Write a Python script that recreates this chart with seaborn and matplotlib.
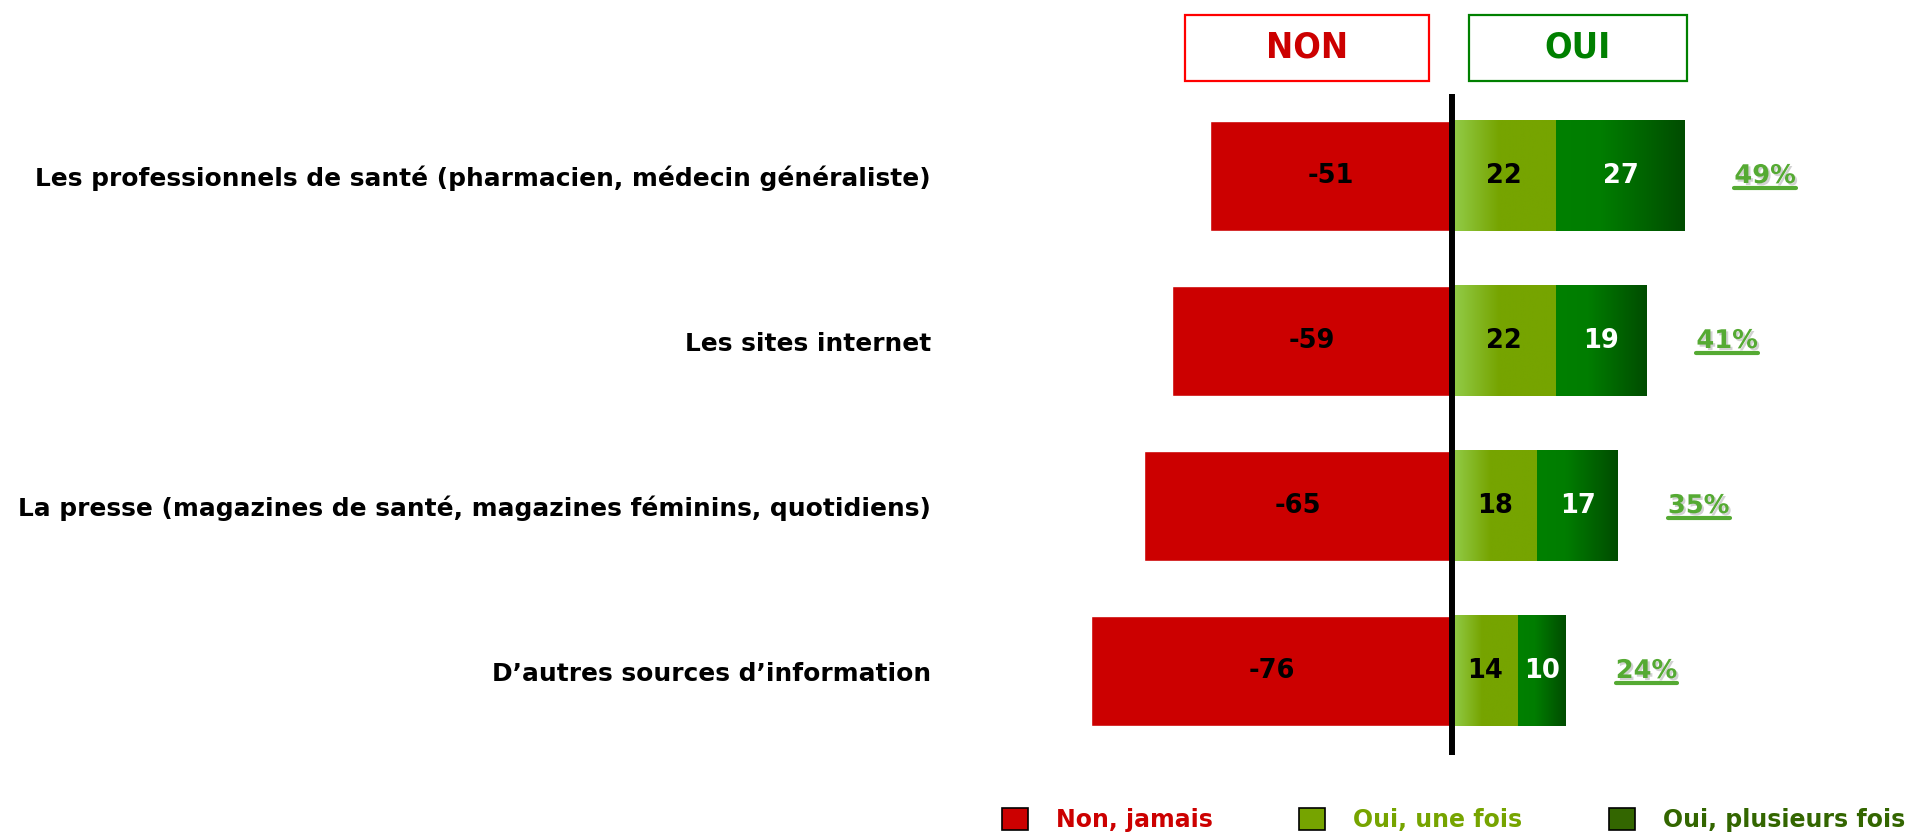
import numpy as np
import pandas as pd
import matplotlib
matplotlib.use("Agg")
import matplotlib.pyplot as plt
import matplotlib.patheffects as pe
import seaborn as sns
from matplotlib.patches import Patch, Rectangle
from matplotlib.colors import LinearSegmentedColormap
from matplotlib.lines import Line2D

# données
sources = [
    "Les professionnels de santé (pharmacien, médecin généraliste)",
    "Les sites internet",
    "La presse (magazines de santé, magazines féminins, quotidiens)",
    "D\u2019autres sources d\u2019information",
]
non_jamais = [51, 59, 65, 76]
oui_une_fois = [22, 22, 18, 14]
oui_plusieurs = [27, 19, 17, 10]
oui_total = [49, 41, 35, 24]
legend_labels = ["Non, jamais", "Oui, une fois", "Oui, plusieurs fois"]

df = pd.DataFrame({
    "source": sources,
    "non": [-v for v in non_jamais],
    "une": oui_une_fois,
    "plus": oui_plusieurs,
})
df["oui"] = df["une"] + df["plus"]

RED = "#CC0000"
OLIVE = "#76A400"
GREEN = "#008000"
DARK = "#336600"
PCT = "#55AA33"

sns.set_style("white")
plt.rcParams["font.family"] = ["DejaVu Sans"]
plt.rcParams["text.color"] = "black"
plt.rcParams["ytick.color"] = "black"

W, H = 1920, 838
fig = plt.figure(figsize=(W / 100, H / 100), dpi=100)
ax_l, ax_r, ax_t, ax_b = 960, 1920, 94, 755
ax = fig.add_axes([ax_l / W, 1 - ax_b / H, (ax_r - ax_l) / W, (ax_b - ax_t) / H])

bw = 0.667
sns.barplot(data=df, y="source", x="non", color=RED, saturation=1, width=bw,
            orient="h", errorbar=None, ax=ax)
sns.barplot(data=df, y="source", x="oui", color=GREEN, saturation=1, width=bw,
            orient="h", errorbar=None, ax=ax)
sns.barplot(data=df, y="source", x="une", color=OLIVE, saturation=1, width=bw,
            orient="h", errorbar=None, ax=ax)

red_bars, dark_bars, light_bars = ax.containers[0], ax.containers[1], ax.containers[2]

# dégradés sur les barres vertes
cm_light = LinearSegmentedColormap.from_list("l", [(0, "#93CD4B"), (0.45, OLIVE), (1, OLIVE)])
cm_dark = LinearSegmentedColormap.from_list("d", [(0, GREEN), (0.35, "#007D00"), (1, "#004C00")])
grad = np.linspace(0, 1, 256).reshape(1, -1)
lab_kw = dict(ha="center", va="center", fontsize=18.5, fontweight="bold", zorder=4)
for lp, dp in zip(light_bars, dark_bars):
    x0, y0 = lp.get_x(), lp.get_y()
    x1, h = x0 + lp.get_width(), lp.get_height()
    x2 = dp.get_x() + dp.get_width()
    lp.set_visible(False)
    dp.set_visible(False)
    ax.imshow(grad, extent=[x0, x1, y0 + h, y0], cmap=cm_light, aspect="auto", zorder=2)
    ax.imshow(grad, extent=[x1, x2, y0 + h, y0], cmap=cm_dark, aspect="auto", zorder=2)

    ax.text((x0 + x1) / 2, y0 + h / 2, f"{int(round(x1 - x0))}", color="black", **lab_kw)
    ax.text((x1 + x2) / 2, y0 + h / 2, f"{int(round(x2 - x1))}", color="white", **lab_kw)

for rp in red_bars:
    ax.text(rp.get_x() + rp.get_width() / 2, rp.get_y() + rp.get_height() / 2,
            f"{int(round(rp.get_width()))}", color="black", **lab_kw)

pct_texts = []
for i, tot in enumerate(oui_total):
    t = ax.text(tot + 17, i, f"{tot}%", ha="center", va="center", fontsize=18.5,
                fontweight="bold", color=PCT, zorder=4,
                path_effects=[pe.withSimplePatchShadow(offset=(1.5, -1.5),
                                                       shadow_rgbFace="#999999", alpha=0.45)])
    pct_texts.append(t)

ax.axvline(0, color="black", lw=4.3, zorder=5)

ax.set_xlim(-(1452 - ax_l) / 4.745, (ax_r - 1452) / 4.745)
ax.set_ylim(3 + (ax_b - 671) / 165, -(176 - ax_t) / 165)
ax.set_xlabel("")
ax.set_ylabel("")
ax.set_xticks([])
ax.set_yticks(range(len(sources)))
ax.set_yticklabels(sources, fontsize=17.9, fontweight="bold", color="black")
ax.tick_params(axis="y", length=0, pad=21)
sns.despine(ax=ax, left=True, bottom=True)

# encadrés NON / OUI
for (x0, x1, txt, ec, tc) in [(1185, 1429, "NON", "#FF0000", RED), (1469, 1687, "OUI", GREEN, GREEN)]:
    fig.add_artist(Rectangle((x0 / W, 1 - 81 / H), (x1 - x0) / W, 66 / H, transform=fig.transFigure,
                             fill=False, edgecolor=ec, lw=1.6))
    fig.text((x0 + x1) / 2 / W, 1 - 48 / H, txt, ha="center", va="center", color=tc,
             fontsize=26, fontweight="bold", fontstretch="condensed")

# légende
handles = [Patch(facecolor=c, edgecolor="black", lw=1.2) for c in (RED, OLIVE, DARK)]
fig.legend(handles, legend_labels, ncol=3, loc="center left", bbox_to_anchor=(990 / W, 1 - 820 / H),
           frameon=False, prop={"weight": "bold", "size": 17},
           labelcolor=[RED, OLIVE, DARK], handlelength=1.1, handleheight=1.1,
           handletextpad=1.2, columnspacing=3.65, borderpad=0)

# soulignement des pourcentages
fig.canvas.draw()
r = fig.canvas.get_renderer()
inv = fig.transFigure.inverted()
for t in pct_texts:
    bb = t.get_window_extent(r)
    (fx0, fy), (fx1, _) = inv.transform([(bb.x0, bb.y0 + 1), (bb.x1, bb.y0 + 1)])
    fig.add_artist(Line2D([fx0, fx1], [fy, fy], transform=fig.transFigure, color=PCT, lw=3))

fig.savefig("out.png", dpi=100, facecolor="white")
